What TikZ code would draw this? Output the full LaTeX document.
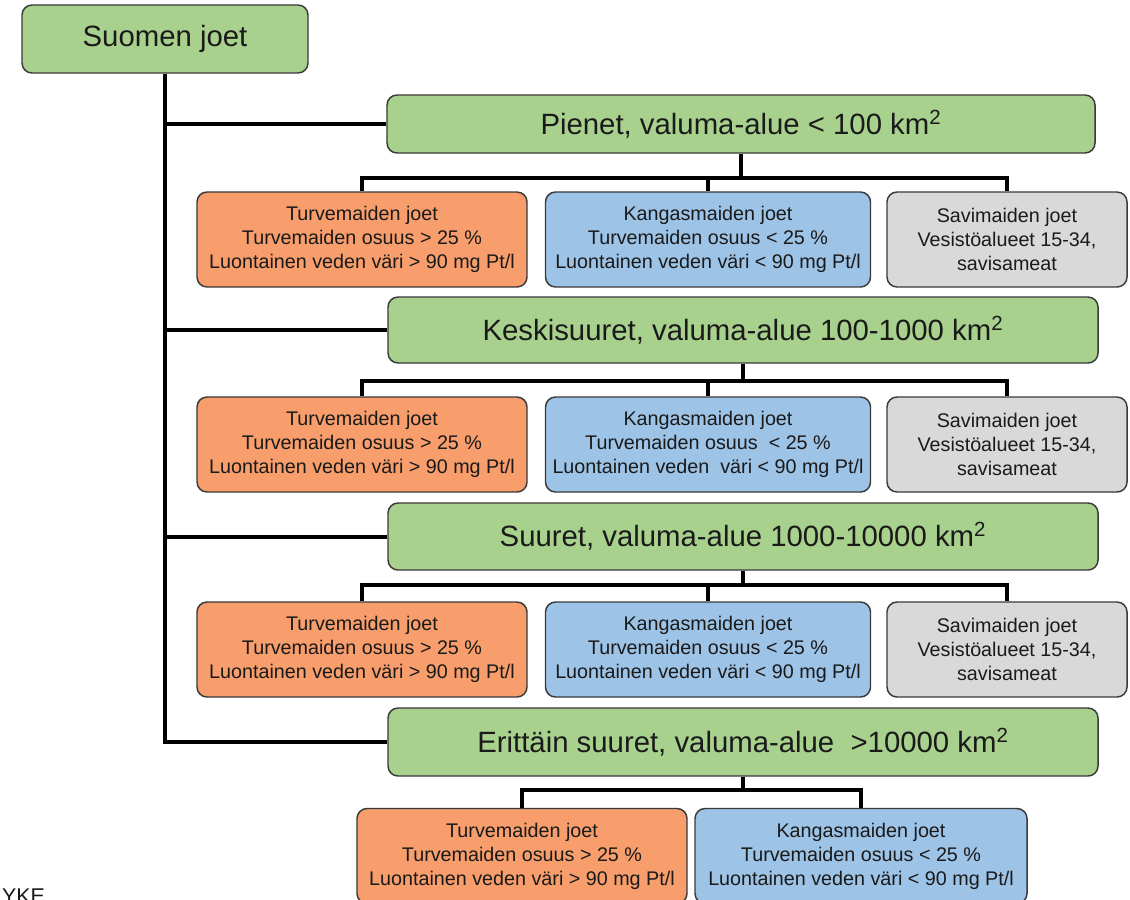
\documentclass[tikz,border=0pt]{standalone}
\usepackage{fontspec}
\setmainfont{Liberation Sans}
\begin{document}
\begin{tikzpicture}[x=0.75pt,y=-0.75pt,
  box/.style={draw=boxline, line width=1.1pt, rounded corners=7.5pt, inner sep=0pt, align=center, text=textc},
  sz/.style 2 args={minimum width=#1*0.75pt, minimum height=#2*0.75pt},
  title/.style={box, fill=greenc, font=\fontsize{22}{26}\selectfont},
  small/.style={box, font=\fontsize{14.8}{18}\selectfont},
  turve/.style={small, fill=orangec, sz={330}{95}},
  kanga/.style={small, fill=bluec, sz={325}{95}},
  savi/.style={small, fill=greyc, sz={240}{95}},
  conn/.style={line width=3pt, black}]
\definecolor{greenc}{HTML}{A9D18E}
\definecolor{orangec}{HTML}{F79E6C}
\definecolor{bluec}{HTML}{9DC3E6}
\definecolor{greyc}{HTML}{D9D9D9}
\definecolor{boxline}{HTML}{3A3A3A}
\definecolor{textc}{HTML}{1A1A1A}
\useasboundingbox (0,0) rectangle (1130,899);
\clip (0,0) rectangle (1130,899);
\fill[white] (0,0) rectangle (1130,899);

% root
\node[title, sz={286}{68}] (root) at (165,39) {Suomen joet};

% level boxes
\node[title, sz={708}{58}] (L1) at (741,124) {Pienet, valuma-alue < 100 km\textsuperscript{2}};
\node[title, sz={710}{66}] (L2) at (743,330) {Keskisuuret, valuma-alue 100-1000 km\textsuperscript{2}};
\node[title, sz={710}{67}] (L3) at (743,536.5) {Suuret, valuma-alue 1000-10000 km\textsuperscript{2}};
\node[title, sz={710}{68}] (L4) at (743,742) {Erittäin suuret, valuma-alue \ >10000 km\textsuperscript{2}};

% level 1 children
\node[turve] (o1) at (362,239.5) {Turvemaiden joet\\Turvemaiden osuus > 25 \%\\Luontainen veden väri > 90 mg Pt/l};
\node[kanga] (b1) at (708,239.5) {Kangasmaiden joet\\Turvemaiden osuus < 25 \%\\Luontainen veden väri < 90 mg Pt/l};
\node[savi] (g1) at (1007,239.5) {Savimaiden joet\\Vesistöalueet 15-34,\\savisameat};
% level 2 children
\node[turve] (o2) at (362,444.5) {Turvemaiden joet\\Turvemaiden osuus > 25 \%\\Luontainen veden väri > 90 mg Pt/l};
\node[kanga] (b2) at (708,444.5) {Kangasmaiden joet\\Turvemaiden osuus \ < 25 \%\\Luontainen veden \ väri < 90 mg Pt/l};
\node[savi] (g2) at (1007,444.5) {Savimaiden joet\\Vesistöalueet 15-34,\\savisameat};
% level 3 children
\node[turve] (o3) at (362,649.5) {Turvemaiden joet\\Turvemaiden osuus > 25 \%\\Luontainen veden väri > 90 mg Pt/l};
\node[kanga] (b3) at (708,649.5) {Kangasmaiden joet\\Turvemaiden osuus < 25 \%\\Luontainen veden väri < 90 mg Pt/l};
\node[savi] (g3) at (1007,649.5) {Savimaiden joet\\Vesistöalueet 15-34,\\savisameat};
% level 4 children
\node[turve] (o4) at (522,856) {Turvemaiden joet\\Turvemaiden osuus > 25 \%\\Luontainen veden väri > 90 mg Pt/l};
\node[kanga, sz={332}{95}] (b4) at (861,856) {Kangasmaiden joet\\Turvemaiden osuus < 25 \%\\Luontainen veden väri < 90 mg Pt/l};

% trunk and branches
\draw[conn] (root.south) -- (root.south |- L4.west) -- (L4.west);
\draw[conn] (root.south |- L1.west) -- (L1.west);
\draw[conn] (root.south |- L2.west) -- (L2.west);
\draw[conn] (root.south |- L3.west) -- (L3.west);

% level 1 bar
\coordinate (k1) at (741,178);
\draw[conn] (L1.south) -- (k1);
\draw[conn] (o1.north) |- (k1) -| (g1.north);
\draw[conn] (k1 -| b1.north) -- (b1.north);
% level 2 bar
\coordinate (k2) at (743,381);
\draw[conn] (L2.south) -- (k2);
\draw[conn] (o2.north) |- (k2) -| (g2.north);
\draw[conn] (k2 -| b2.north) -- (b2.north);
% level 3 bar
\coordinate (k3) at (743,585);
\draw[conn] (L3.south) -- (k3);
\draw[conn] (o3.north) |- (k3) -| (g3.north);
\draw[conn] (k3 -| b3.north) -- (b3.north);
% level 4 bar
\coordinate (k4) at (743,790);
\draw[conn] (L4.south) -- (k4);
\draw[conn] (o4.north) |- (k4) -| (b4.north);

% logo text, cut by the edge
\node[anchor=base east, inner sep=0pt, text=textc, font=\fontsize{16}{18}\selectfont] (yke) at (45,903) {YKE};
\end{tikzpicture}
\end{document}
